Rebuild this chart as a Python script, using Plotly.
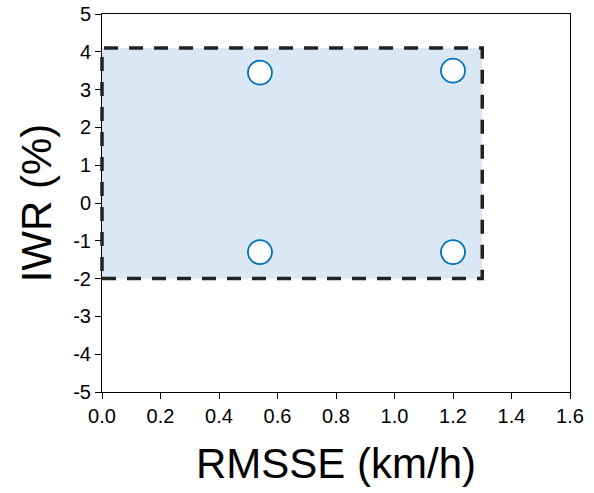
import plotly.graph_objects as go

# data
pts_x = [0.54, 1.2, 0.54, 1.2]
pts_y = [3.45, 3.5, -1.3, -1.3]
box_x = [0.0, 1.3, 1.3, 0.0, 0.0]
box_y = [-2.0, -2.0, 4.1, 4.1, -2.0]
x_ticks = [0.0, 0.2, 0.4, 0.6, 0.8, 1.0, 1.2, 1.4, 1.6]
x_labels = ["0.0", "0.2", "0.4", "0.6", "0.8", "1.0", "1.2", "1.4", "1.6"]
y_ticks = [-5, -4, -3, -2, -1, 0, 1, 2, 3, 4, 5]
y_labels = [str(v) for v in y_ticks]
x_range = [0, 1.6]
y_range = [-5, 5]

# geometry: main plot area in px, plus a padded overlay so edge lines are not clipped
W, H = 594, 493
L, R, T, B = 102, 24, 14, 101
PAD = 10
pw, ph = W - L - R, H - T - B
ow, oh = pw + 2 * PAD, ph + 2 * PAD
xs = (x_range[1] - x_range[0]) / pw
ys = (y_range[1] - y_range[0]) / ph
x2_range = [x_range[0] - PAD * xs, x_range[1] + PAD * xs]
y2_range = [y_range[0] - PAD * ys, y_range[1] + PAD * ys]

fig = go.Figure()
# invisible trace so the main (tick-bearing) axes are drawn
fig.add_trace(go.Scatter(
    x=pts_x, y=pts_y, mode="markers", marker=dict(opacity=0),
    xaxis="x", yaxis="y", hoverinfo="skip", showlegend=False))
fig.add_trace(go.Scatter(
    x=box_x, y=box_y, mode="lines", fill="toself",
    fillcolor="rgb(218,231,244)",
    line=dict(color="rgb(34,34,34)", width=3.5, dash="14px,11px"),
    xaxis="x2", yaxis="y2", hoverinfo="skip", showlegend=False))
fig.add_trace(go.Scatter(
    x=pts_x, y=pts_y, mode="markers",
    marker=dict(size=24, color="white", line=dict(color="#0072BD", width=1.8)),
    xaxis="x2", yaxis="y2", cliponaxis=False, showlegend=False))

font = "Liberation Sans, Arial, sans-serif"
fig.update_layout(
    width=W, height=H,
    margin=dict(l=L - PAD, r=R - PAD, t=T - PAD, b=B - PAD),
    plot_bgcolor="rgba(0,0,0,0)", paper_bgcolor="white",
    font=dict(family=font, color="black"),
    xaxis=dict(range=x_range, domain=[PAD / ow, 1 - PAD / ow],
               tickvals=x_ticks, ticktext=x_labels,
               ticks="outside", ticklen=6, tickwidth=1, tickcolor="black",
               showline=True, linecolor="black", linewidth=1, mirror=True,
               showgrid=False, zeroline=False, tickfont=dict(size=20),
               automargin=False, anchor="y",
               title=dict(text="RMSSE (km/h)", font=dict(size=42), standoff=22)),
    yaxis=dict(range=y_range, domain=[PAD / oh, 1 - PAD / oh],
               tickvals=y_ticks, ticktext=y_labels,
               ticks="outside", ticklen=6, tickwidth=1, tickcolor="black",
               showline=True, linecolor="black", linewidth=1, mirror=True,
               showgrid=False, zeroline=False, tickfont=dict(size=20),
               automargin=False, anchor="x",
               title=dict(text="IWR (%)", font=dict(size=42), standoff=8)),
    xaxis2=dict(range=x2_range, domain=[0, 1], anchor="y2", visible=False,
                showgrid=False, zeroline=False),
    yaxis2=dict(range=y2_range, domain=[0, 1], anchor="x2", visible=False,
                showgrid=False, zeroline=False),
)
fig.write_html("out.html", config={"displayModeBar": False},
               post_script="document.body.style.margin='0';document.body.style.overflow='hidden';")
